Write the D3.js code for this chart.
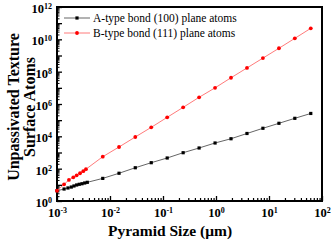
<!DOCTYPE html>
<html>
<head>
<meta charset="utf-8">
<script src="https://cdn.jsdelivr.net/npm/d3@7"></script>
<style>
  body { margin: 0; background: #fff; }
  svg { display: block; }
  svg text { font-family: 'Liberation Serif', 'DejaVu Serif', serif; }
</style>
</head>
<body>
<div id="chart"></div>
<script>
// pyramid size in um, atoms count
const sizeA = [0.001, 0.00136, 0.00161, 0.00186, 0.00209, 0.00235, 0.00263, 0.00296, 0.00333, 0.00373,
  0.0073, 0.0148, 0.03, 0.06, 0.12, 0.24, 0.48, 0.96, 1.92, 3.84, 7.68, 15.4, 30.7, 61.4];
const atomsA = [4.3, 5.5, 6.4, 7.3, 8.5, 9.8, 10.8, 11.7, 13, 14.3,
  25, 52, 114, 234, 457, 970, 1900, 3870, 7100, 15000, 31500, 64000, 130000, 260000];

const sizeB = [0.001, 0.00136, 0.00168, 0.00203, 0.00235, 0.00272, 0.00313, 0.00352,
  0.0073, 0.0148, 0.03, 0.06, 0.12, 0.24, 0.48, 0.96, 1.92, 3.84, 7.68, 15.4, 30.7, 61.4];
const atomsB = [4.3, 10.8, 20, 29, 39, 52, 70, 93,
  550, 2190, 9100, 36000, 150000, 620000, 2.6e6, 1.0e7, 4.2e7, 1.7e8, 6.9e8, 2.8e9, 1.15e10, 4.8e10];

const seriesNames = ['A-type bond (100) plane atoms', 'B-type bond (111) plane atoms'];
const xDecades = [-3, -2, -1, 0, 1, 2];
const yDecades = [0, 2, 4, 6, 8, 10, 12];

const width = 331, height = 241;
const margin = { top: 7, right: 9, bottom: 40, left: 57 };
const serif = "'Liberation Serif', 'DejaVu Serif', serif";

const svg = d3.select('#chart').append('svg')
  .attr('width', width)
  .attr('height', height);

const x = d3.scaleLog()
  .domain([1e-3, 1e2])
  .range([margin.left, width - margin.right]);
const y = d3.scaleLog()
  .domain([1, 1e12])
  .range([height - margin.bottom, margin.top]);

// minor ticks on each decade
const minorTicks = (lo, hi) => {
  const out = [];
  for (let e = lo; e < hi; e++) {
    for (let m = 2; m <= 9; m++) out.push(m * Math.pow(10, e));
  }
  return out;
};

const supLabel = (sel, exps) => {
  sel.each(function(d) {
    const t = d3.select(this);
    const e = Math.round(Math.log10(d));
    t.text('');
    if (!exps.includes(e)) return;
    t.append('tspan').text('10');
    t.append('tspan').attr('dy', '-0.5em').style('font-size', '8px').text(e);
  });
};

// x axis
const xMajor = xDecades.map(e => Math.pow(10, e));
const gx = svg.append('g')
  .attr('transform', `translate(0,${height - margin.bottom})`);
gx.call(d3.axisBottom(x).tickValues(xMajor).tickSize(-5).tickPadding(7));
gx.attr('font-family', serif);
gx.select('.domain').remove();
gx.selectAll('.tick line').attr('stroke', '#000').attr('stroke-width', 1.3);
gx.selectAll('.tick text')
  .attr('fill', '#000')
  .style('font-size', '12.5px')
  .style('font-weight', 'bold')
  .call(supLabel, xDecades);

const gxMinor = svg.append('g')
  .attr('transform', `translate(0,${height - margin.bottom})`)
  .call(d3.axisBottom(x).tickValues(minorTicks(-3, 2)).tickSize(-3).tickFormat(''));
gxMinor.select('.domain').remove();
gxMinor.selectAll('.tick line').attr('stroke', '#000').attr('stroke-width', 1.2);

// y axis
const yAll = d3.range(0, 13).map(e => Math.pow(10, e));
const gy = svg.append('g')
  .attr('transform', `translate(${margin.left},0)`);
gy.call(d3.axisLeft(y).tickValues(yAll).tickSize(-5).tickPadding(5));
gy.attr('font-family', serif);
gy.select('.domain').remove();
gy.selectAll('.tick line').attr('stroke', '#000').attr('stroke-width', 1.3);
gy.selectAll('.tick text')
  .attr('fill', '#000')
  .attr('dy', '0.45em')
  .style('font-size', '12.5px')
  .style('font-weight', 'bold')
  .call(supLabel, yDecades);

const gyMinor = svg.append('g')
  .attr('transform', `translate(${margin.left},0)`)
  .call(d3.axisLeft(y).tickValues(minorTicks(0, 12)).tickSize(-2.5).tickFormat(''));
gyMinor.select('.domain').remove();
gyMinor.selectAll('.tick line').attr('stroke', '#000').attr('stroke-width', 1);

// frame
svg.append('rect')
  .attr('x', margin.left)
  .attr('y', margin.top)
  .attr('width', width - margin.left - margin.right)
  .attr('height', height - margin.top - margin.bottom)
  .attr('fill', 'none')
  .attr('stroke', '#000')
  .attr('stroke-width', 2);

const line = d3.line()
  .x(d => x(d[0]))
  .y(d => y(d[1]));

const dataA = sizeA.map((s, i) => [s, atomsA[i]]);
const dataB = sizeB.map((s, i) => [s, atomsB[i]]);

svg.append('path')
  .datum(dataA)
  .attr('fill', 'none')
  .attr('stroke', '#666')
  .attr('stroke-width', 1)
  .attr('d', line);

svg.append('g')
  .selectAll('rect')
  .data(dataA)
  .enter()
  .append('rect')
  .attr('x', d => x(d[0]) - 1.6)
  .attr('y', d => y(d[1]) - 1.6)
  .attr('width', 3.2)
  .attr('height', 3.2)
  .attr('fill', '#000');

svg.append('path')
  .datum(dataB)
  .attr('fill', 'none')
  .attr('stroke', '#ff7b7b')
  .attr('stroke-width', 1)
  .attr('d', line);

svg.append('g')
  .selectAll('circle')
  .data(dataB)
  .enter()
  .append('circle')
  .attr('cx', d => x(d[0]))
  .attr('cy', d => y(d[1]))
  .attr('r', 1.9)
  .attr('fill', '#f00');

// legend
const legend = svg.append('g');
const legendColours = [['#666', '#000'], ['#ff7b7b', '#f00']];
seriesNames.forEach((name, i) => {
  const ly = 18 + i * 15;
  legend.append('line')
    .attr('x1', 64).attr('x2', 90)
    .attr('y1', ly).attr('y2', ly)
    .attr('stroke', legendColours[i][0]);
  if (i === 0) {
    legend.append('rect')
      .attr('x', 75.4).attr('y', ly - 1.6)
      .attr('width', 3.2).attr('height', 3.2)
      .attr('fill', legendColours[i][1]);
  } else {
    legend.append('circle')
      .attr('cx', 77).attr('cy', ly).attr('r', 1.9)
      .attr('fill', legendColours[i][1]);
  }
  legend.append('text')
    .attr('x', 93)
    .attr('y', ly + 4)
    .style('font-size', '11.5px')
    .text(name);
});

// axis titles
svg.append('text')
  .attr('x', 170)
  .attr('y', 236)
  .attr('text-anchor', 'middle')
  .style('font-size', '15.5px')
  .style('font-weight', 'bold')
  .text('Pyramid Size (\u03bcm)');

const yTitle = svg.append('text')
  .attr('transform', 'translate(19,107) rotate(-90)')
  .attr('text-anchor', 'middle')
  .style('font-size', '16px')
  .style('font-weight', 'bold');
yTitle.append('tspan').attr('x', 0).attr('dy', 0).text('Unpassivated Texture');
yTitle.append('tspan').attr('x', 0).attr('dy', 16).text('Surface Atoms');
</script>
</body>
</html>
